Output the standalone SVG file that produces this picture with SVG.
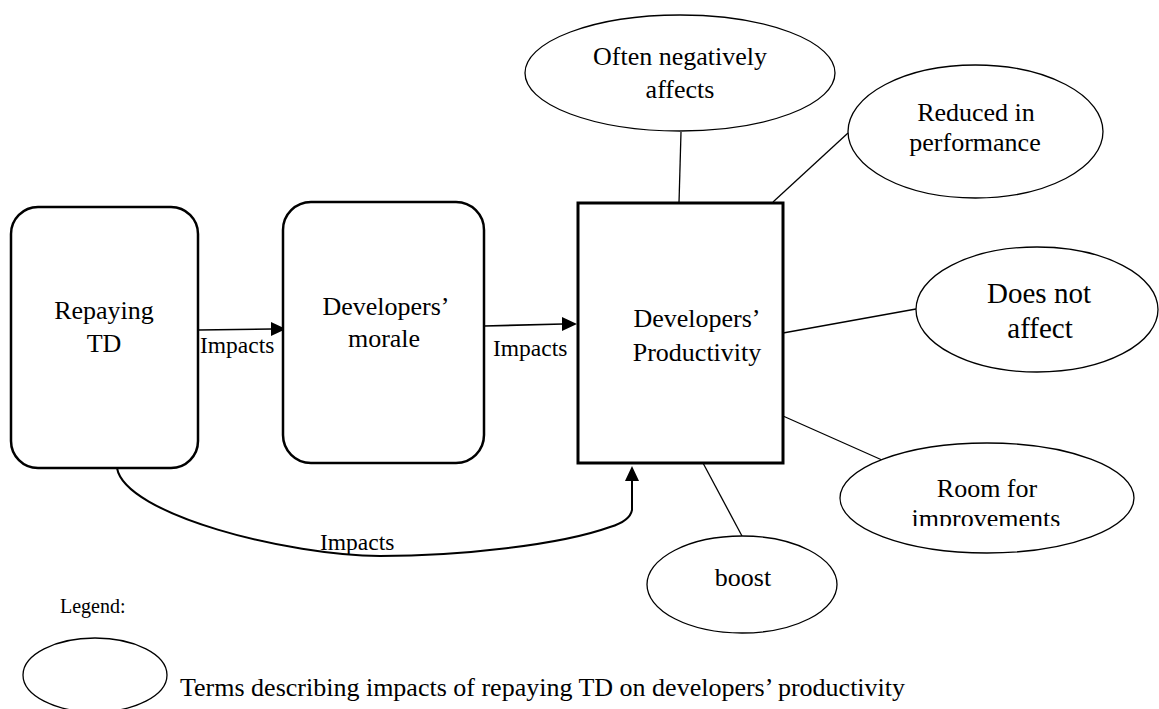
<svg xmlns="http://www.w3.org/2000/svg" width="1159" height="709" viewBox="0 0 1159 709">
  <style>
    text { font-family: "Liberation Serif", "Times New Roman", serif; fill: #000; }
    .lbl { font-size: 26px; text-anchor: middle; }
    .big { font-size: 29px; text-anchor: middle; }
    .edge { font-size: 23.5px; }
    .box { fill: #fff; stroke: #000; stroke-width: 2.5; }
    .sq { fill: #fff; stroke: #000; stroke-width: 3; }
    .term { fill: #fff; stroke: #000; stroke-width: 1.3; }
    .link { fill: none; stroke: #000; stroke-width: 1.3; }
    .flow { fill: none; stroke: #000; stroke-width: 1.6; }
    .curve { fill: none; stroke: #000; stroke-width: 2; }
    .head { fill: #000; stroke: none; }
  </style>
  <defs>
    <clipPath id="roomClip">
      <rect x="840" y="440" width="300" height="86"/>
    </clipPath>
  </defs>

  <rect width="1159" height="709" fill="#fff"/>

  <!-- connectors -->
  <g id="connectors">
    <line class="flow" x1="198" y1="330" x2="272" y2="329"/>
    <polygon class="head" points="286,329 271,322 271,336"/>
    <line class="flow" x1="484" y1="326" x2="563" y2="324"/>
    <polygon class="head" points="577,324 562,317 562,331"/>
    <path class="curve" d="M117,468 C125,515 290,556 380,556 C460,556 560,545 610,527 Q630,521 632,510 L632,480"/>
    <polygon class="head" points="632,466 625,481 639,481"/>
    <line class="link" x1="681" y1="132" x2="679" y2="203"/>
    <line class="link" x1="773" y1="202" x2="848" y2="133"/>
    <line class="link" x1="783" y1="333" x2="916" y2="309"/>
    <line class="link" x1="783" y1="416" x2="882" y2="460"/>
    <line class="link" x1="703" y1="463" x2="742" y2="536"/>
    <text class="edge" x="200" y="353">Impacts</text>
    <text class="edge" x="493" y="356">Impacts</text>
    <text class="edge" x="320" y="550">Impacts</text>
  </g>

  <g id="repaying-td">
    <rect class="box" x="11" y="207" width="187" height="261" rx="27"/>
    <text class="lbl" x="104" y="319">Repaying</text>
    <text class="lbl" x="104" y="352">TD</text>
  </g>

  <g id="developers-morale">
    <rect class="box" x="283" y="202" width="201" height="261" rx="28"/>
    <text class="lbl" x="386" y="315">Developers’</text>
    <text class="lbl" x="384" y="347">morale</text>
  </g>

  <g id="developers-productivity">
    <rect class="sq" x="578" y="203" width="205" height="260"/>
    <text class="lbl" x="697" y="327">Developers’</text>
    <text class="lbl" x="697" y="361">Productivity</text>
  </g>

  <g id="often-negatively-affects">
    <ellipse class="term" cx="680" cy="73" rx="155" ry="58"/>
    <text class="lbl" x="680" y="65">Often negatively</text>
    <text class="lbl" x="680" y="98">affects</text>
  </g>

  <g id="reduced-in-performance">
    <ellipse class="term" cx="975.5" cy="131.5" rx="127.5" ry="66.5"/>
    <text class="lbl" x="976" y="121">Reduced in</text>
    <text class="lbl" x="975" y="151">performance</text>
  </g>

  <g id="does-not-affect">
    <ellipse class="term" cx="1037" cy="309.5" rx="121" ry="62.5"/>
    <text class="big" x="1039" y="303">Does not</text>
    <text class="big" x="1040" y="338">affect</text>
  </g>

  <g id="room-for-improvements">
    <ellipse class="term" cx="987" cy="498" rx="147" ry="55"/>
    <text class="lbl" x="987" y="497">Room for</text>
    <text class="lbl" x="986" y="527" clip-path="url(#roomClip)">improvements</text>
  </g>

  <g id="boost">
    <ellipse class="term" cx="742" cy="584.5" rx="95" ry="48.5"/>
    <text class="lbl" x="743" y="586">boost</text>
  </g>

  <g id="legend">
    <text x="60" y="613" font-size="20">Legend:</text>
    <ellipse class="term" cx="95" cy="675" rx="72" ry="37"/>
    <text x="180" y="696" font-size="26">Terms describing impacts of repaying TD on developers’ productivity</text>
  </g>
</svg>
